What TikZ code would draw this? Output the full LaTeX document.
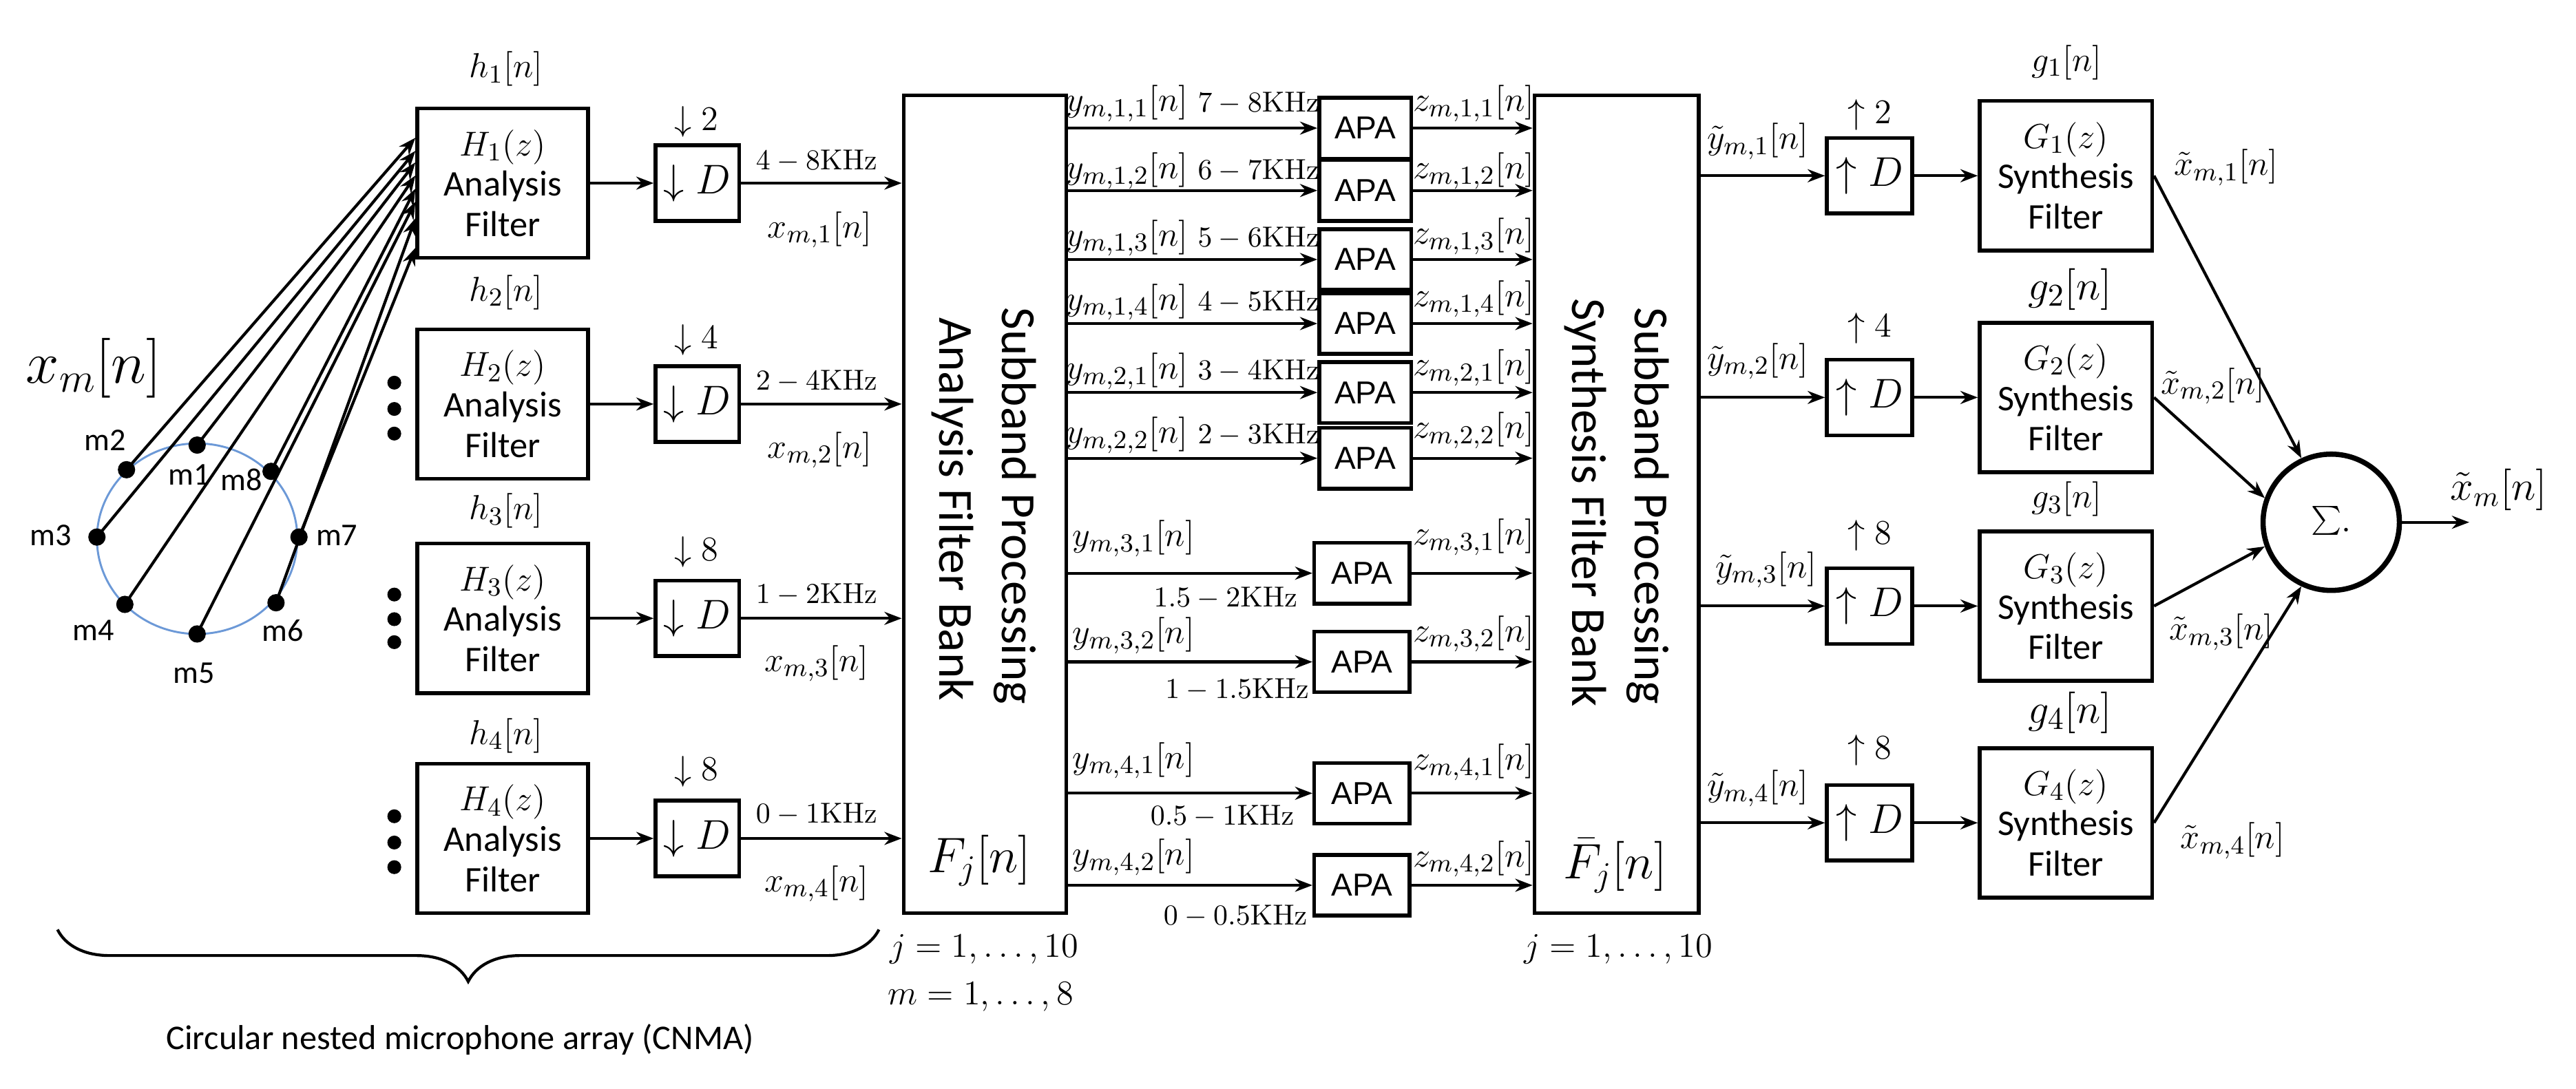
\documentclass[tikz,border=0pt]{standalone}
\usepackage[no-math]{fontspec}
\setmainfont{Carlito}
\newfontfamily\arialf{Liberation Sans}
\usetikzlibrary{arrows.meta,calc,decorations.pathreplacing}
\begin{document}
\begin{tikzpicture}[x=0.02cm,y=-0.02cm,
  box/.style={draw,line width=1.3pt,inner sep=0pt},
  ftxt/.style={font=\fontsize{12.5}{14}\selectfont,align=center},
  ml/.style={font=\fontsize{13}{15}\selectfont,inner sep=0pt},
  sl/.style={font=\fontsize{10}{12}\selectfont,inner sep=0pt},
  arr/.style={line width=1pt,-{Stealth[length=6pt,width=4.5pt]}},
  apa/.style={box,minimum width=1.12cm,minimum height=0.74cm,font=\arialf\fontsize{11}{13}\selectfont},
  mic/.style={circle,fill=black,inner sep=0pt,minimum size=6pt},
  micl/.style={font=\fontsize{11}{13}\selectfont,inner sep=0pt},
  rot/.style={rotate=-90,font=\fontsize{17}{20}\selectfont,inner sep=0pt}]
\useasboundingbox (0,0) rectangle (1568,663);
% analysis filters
\foreach \i/\y in {1/111.5,2/246,3/376.5,4/510.5}{
  \node[box,minimum width=2.08cm,minimum height=1.82cm] (H\i) at (306,\y) {};
  \node[ftxt] (Ht\i) at (306,\y) {$H_{\i}(z)$\\Analysis\\Filter};
  \node[box,minimum width=1.02cm,minimum height=0.92cm,font=\fontsize{14}{16}\selectfont] (D\i) at (424.5,\y) {$\downarrow D$};
  \draw[arr] (H\i.east) -- (D\i.west);
}
\node[ml] (h1) at (308,42) {$h_1\big[n\big]$};
\node[ml] (h2) at (308,178) {$h_2\big[n\big]$};
\node[ml] (h3) at (308,311) {$h_3\big[n\big]$};
\node[ml] (h4) at (308,448) {$h_4\big[n\big]$};
\node[ml] (d1) at (424,74) {$\downarrow 2$};
\node[ml] (d2) at (424,207) {$\downarrow 4$};
\node[ml] (d3) at (424,336) {$\downarrow 8$};
\node[ml] (d4) at (424,470) {$\downarrow 8$};
% bank A
\node[box,minimum width=1.98cm,minimum height=9.96cm] (A) at (599.5,307) {};
\node[rot] (At1) at (618,308) {Subband Processing};
\node[rot] (At2) at (580,310) {Analysis Filter Bank};
\node[font=\fontsize{17}{19}\selectfont,inner sep=0pt] (Fj) at (596,524) {$F_j\big[n\big]$};
\node[ml] (j1) at (599,578) {$j=1,\ldots,10$};
\node[ml] (m1l) at (597,607) {$m=1,\ldots,8$};
\foreach \i in {1,2,3,4}{ \draw[arr] (D\i.east) -- (D\i.east -| A.west); }
\node[sl] (f1) at (497,98) {$4-8\mathrm{KHz}$};
\node[sl] (f2) at (497,232) {$2-4\mathrm{KHz}$};
\node[sl] (f3) at (497,362) {$1-2\mathrm{KHz}$};
\node[sl] (f4) at (497,496) {$0-1\mathrm{KHz}$};
\node[ml] (x1) at (499,140) {$x_{m,1}\big[n\big]$};
\node[ml] (x2) at (499,274) {$x_{m,2}\big[n\big]$};
\node[ml] (x3) at (497,404) {$x_{m,3}\big[n\big]$};
\node[ml] (x4) at (497,538) {$x_{m,4}\big[n\big]$};
% dots
\foreach \y in {233,249,264,362,377,391,497,513,528}{\fill (240,\y) circle (2.4pt);}
% microphones
\node[font=\fontsize{20}{22}\selectfont,inner sep=0pt] (xm) at (57,224) {$x_m\big[n\big]$};
\draw[color=cyan!50!blue!60,line width=0.7pt] (120,328) ellipse (61 and 58);
\node[mic] (M1) at (120,271) {};
\node[mic] (M2) at (77,286) {};
\node[mic] (M3) at (59,327) {};
\node[mic] (M4) at (76,368) {};
\node[mic] (M5) at (120,386) {};
\node[mic] (M6) at (168,367) {};
\node[mic] (M7) at (182,327) {};
\node[mic] (M8) at (165,287) {};
\node[micl] (L1) at (115,289) {m1};
\node[micl] (L2) at (64,268) {m2};
\node[micl] (L3) at (31,326) {m3};
\node[micl] (L4) at (57,384) {m4};
\node[micl] (L5) at (118,410) {m5};
\node[micl] (L6) at (172,384) {m6};
\node[micl] (L7) at (205,326) {m7};
\node[micl] (L8) at (147,292) {m8};
\foreach \m/\t in {2/85,3/93,1/100,4/108,8/116,5/124,6/134,7/152}{
  \coordinate (T\m) at ($(H1.north west)+(0,\t-66)$);
  \draw[arr] (M\m.center) -- (T\m);
}
\draw[decorate,decoration={brace,amplitude=18pt,mirror},line width=1pt] (35,566) -- (535,566);
\node[font=\fontsize{12}{14}\selectfont,inner sep=0pt] (cnma) at (280,633) {Circular nested microphone array (CNMA)};
% APA section
\node[box,minimum width=2cm,minimum height=9.96cm] (S) at (984,307) {};
\node[rot] (St1) at (1003,308) {Subband Processing};
\node[rot] (St2) at (965,306) {Synthesis Filter Bank};
\node[font=\fontsize{17}{19}\selectfont,inner sep=0pt] (Fb) at (983,527) {$\bar F_j\big[n\big]$};
\node[ml] (j2) at (985,578) {$j=1,\ldots,10$};
\foreach \i/\y in {1/78,2/116,3/158,4/197,5/239,6/279}{
  \node[apa] (P\i) at (831,\y) {APA};
}
\foreach \i/\y in {7/349,8/403,9/483,10/539}{
  \node[apa,minimum width=1.16cm] (P\i) at (829,\y) {APA};
}
\foreach \i in {1,...,10}{
  \draw[arr] (P\i.west -| A.east) -- (P\i.west);
  \draw[arr] (P\i.east) -- (P\i.east -| S.west);
}
\foreach \i/\s/\y/\f in {1/{1,1}/63/{7-8},2/{1,2}/104/{6-7},3/{1,3}/145/{5-6},4/{1,4}/184/{4-5},5/{2,1}/226/{3-4},6/{2,2}/265/{2-3}}{
  \node[ml] (yl\i) at (686,\y) {$y_{m,\s}\big[n\big]$};
  \node[sl] (fl\i) at (766,\y) {$\f\mathrm{KHz}$};
}
\foreach \i/\s/\y in {7/{3,1}/328,8/{3,2}/387,9/{4,1}/463,10/{4,2}/522}{
  \node[ml] (yl\i) at (690,\y) {$y_{m,\s}\big[n\big]$};
}
\node[sl] (fl7) at (746,364) {$1.5-2\mathrm{KHz}$};
\node[sl] (fl8) at (753,420) {$1-1.5\mathrm{KHz}$};
\node[sl] (fl9) at (744,497) {$0.5-1\mathrm{KHz}$};
\node[sl] (fl10) at (752,558) {$0-0.5\mathrm{KHz}$};
\foreach \i/\s/\y in {1/{1,1}/63,2/{1,2}/104,3/{1,3}/144,4/{1,4}/182,5/{2,1}/224,6/{2,2}/262,7/{3,1}/327,8/{3,2}/386,9/{4,1}/464,10/{4,2}/523}{
  \node[ml] (zl\i) at (897,\y) {$z_{m,\s}\big[n\big]$};
}
% synthesis
\foreach \i/\y in {1/107,2/242,3/369,4/501}{
  \node[box,minimum width=1.04cm,minimum height=0.92cm,font=\fontsize{14}{16}\selectfont] (U\i) at (1138,\y) {$\uparrow D$};
  \node[box,minimum width=2.1cm,minimum height=1.82cm] (G\i) at (1257.5,\y) {};
  \node[ftxt] (Gt\i) at (1257.5,\y) {$G_{\i}(z)$\\Synthesis\\Filter};
  \draw[arr] (U\i.west -| S.east) -- (U\i.west);
  \draw[arr] (U\i.east) -- (G\i.west);
}
\node[ml] (u1) at (1138,70) {$\uparrow 2$};
\node[ml] (u2) at (1138,200) {$\uparrow 4$};
\node[ml] (u3) at (1138,326) {$\uparrow 8$};
\node[ml] (u4) at (1138,457) {$\uparrow 8$};
\node[ml] (g1) at (1258,38) {$g_1\big[n\big]$};
\node[ml,font=\fontsize{15}{17}\selectfont] (g2) at (1260,176) {$g_2\big[n\big]$};
\node[ml] (g3) at (1258,304) {$g_3\big[n\big]$};
\node[ml,font=\fontsize{15}{17}\selectfont] (g4) at (1260,434) {$g_4\big[n\big]$};
\node[ml] (yt1) at (1070,86) {$\tilde y_{m,1}\big[n\big]$};
\node[ml] (yt2) at (1070,220) {$\tilde y_{m,2}\big[n\big]$};
\node[ml] (yt3) at (1075,347) {$\tilde y_{m,3}\big[n\big]$};
\node[ml] (yt4) at (1070,480) {$\tilde y_{m,4}\big[n\big]$};
\node[circle,draw,line width=1.8pt,minimum size=1.66cm,inner sep=0pt,font=\fontsize{24}{26}\selectfont] (sum) at (1419,318) {$\sum\!{\scriptscriptstyle\cdot}$};
\draw[arr] (G1.east) -- (sum.115);
\draw[arr] (G2.east) -- (sum.160);
\draw[arr] (G3.east) -- (sum.200);
\draw[arr] (G4.east) -- (sum.245);
\coordinate (out) at (1503,318);
\draw[arr] (sum.east) -- (out);
\node[font=\fontsize{14}{16}\selectfont,inner sep=0pt] (xo) at (1521,298) {$\tilde x_m\big[n\big]$};
\node[ml] (xt1) at (1355,102) {$\tilde x_{m,1}\big[n\big]$};
\node[ml] (xt2) at (1347,235) {$\tilde x_{m,2}\big[n\big]$};
\node[ml] (xt3) at (1352,385) {$\tilde x_{m,3}\big[n\big]$};
\node[ml] (xt4) at (1359,512) {$\tilde x_{m,4}\big[n\big]$};
\end{tikzpicture}
\end{document}
